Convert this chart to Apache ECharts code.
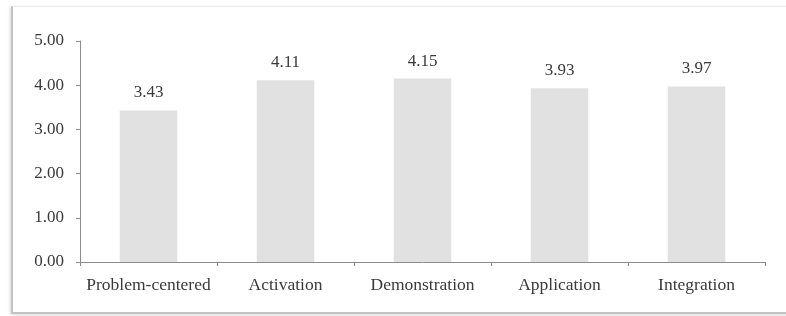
<!DOCTYPE html>
<html>
<head>
<meta charset="utf-8">
<script src="https://cdn.jsdelivr.net/npm/echarts@6/dist/echarts.min.js"></script>
<style>
  html, body { margin: 0; padding: 0; background: #fff; overflow: hidden; }
  #frame {
    position: absolute; left: 11px; top: 6px; width: 800px; height: 305px;
    border-top: 1px solid #ececec; border-left: 2px solid #c4c4c4; border-bottom: 2px solid #c4c4c4;
    box-shadow: -1px 1px 3px rgba(0, 0, 0, 0.15);
  }
  #main { position: absolute; left: 0; top: 0; width: 786px; height: 316px; }
</style>
</head>
<body>
<div id="frame"></div>
<div id="main"></div>
<script>
  const categories = ['Problem-centered', 'Activation', 'Demonstration', 'Application', 'Integration'];
  const scores = [3.43, 4.11, 4.15, 3.93, 3.97];

  const chart = echarts.init(document.getElementById('main'));
  const font = '"Liberation Serif", "Times New Roman", serif';

  const option = {
    animation: false,
    backgroundColor: 'transparent',
    grid: { left: 80, right: 21, top: 41, bottom: 54 },
    xAxis: {
      type: 'category',
      data: categories,
      axisLine: { lineStyle: { color: '#8c8c8c', width: 1 } },
      axisTick: { show: true, length: 4, lineStyle: { color: '#8c8c8c' } },
      axisLabel: { color: '#3a3a3a', fontFamily: font, fontSize: 17.5, margin: 14, interval: 0 }
    },
    yAxis: {
      type: 'value',
      min: 0,
      max: 5,
      interval: 1,
      axisLine: { show: true, lineStyle: { color: '#8c8c8c', width: 1 } },
      axisTick: { show: true, length: 4, lineStyle: { color: '#8c8c8c' } },
      splitLine: { show: false },
      axisLabel: {
        color: '#3a3a3a', fontFamily: font, fontSize: 17, margin: 16,
        formatter: v => v.toFixed(2)
      }
    },
    series: [
      {
        type: 'bar',
        data: scores,
        barWidth: '42%',
        itemStyle: { color: '#e1e1e1' },
        label: {
          show: true,
          position: 'top',
          distance: 9,
          color: '#3a3a3a',
          fontFamily: font,
          fontSize: 17,
          formatter: p => p.value.toFixed(2)
        }
      }
    ]
  };

  chart.setOption(option);
</script>
</body>
</html>
